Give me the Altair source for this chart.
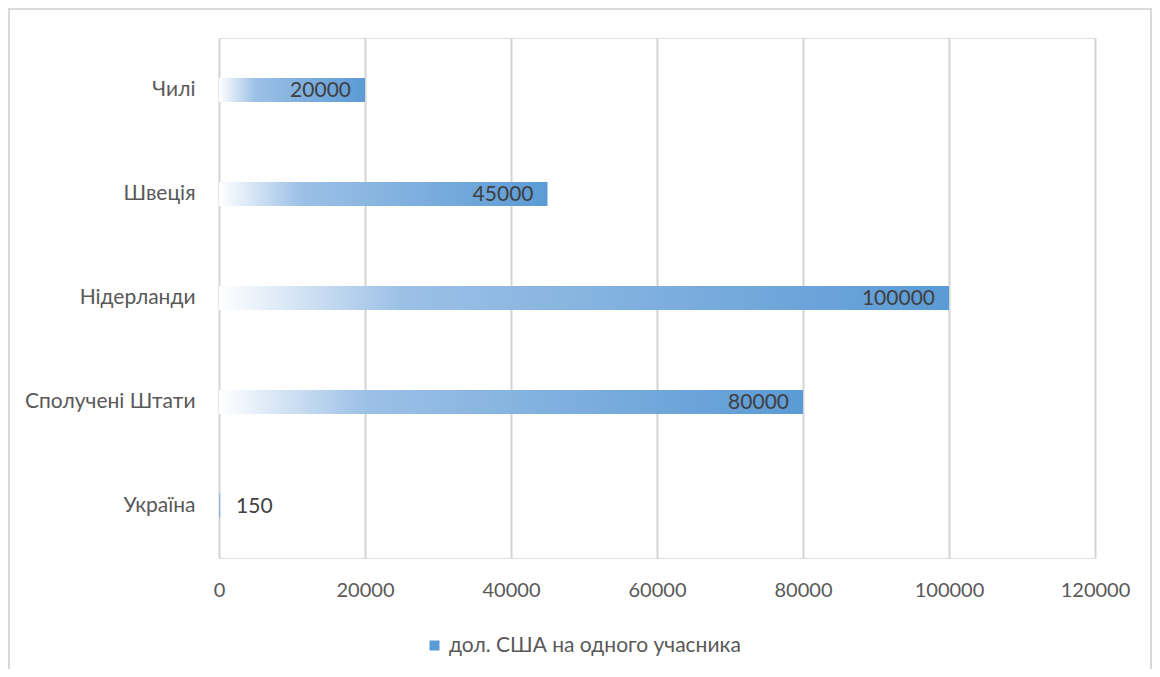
import altair as alt
import pandas as pd

countries = ["Чилі", "Швеція", "Нідерланди", "Сполучені Штати", "Україна"]
values = [20000, 45000, 100000, 80000, 150]
series_name = "дол. США на одного учасника"
x_ticks = [0, 20000, 40000, 60000, 80000, 100000, 120000]

df = pd.DataFrame({"country": countries, "value": values, "series": [series_name] * len(countries)})

FONT = "Lato"
W, H = 876, 520

gradient = alt.LinearGradient(
    gradient="linear",
    stops=[
        alt.GradientStop(offset=0, color="#ffffff"),
        alt.GradientStop(offset=0.25, color="#9cc0e6"),
        alt.GradientStop(offset=1, color="#5b9bd5"),
    ],
    x1=0, x2=1, y1=0, y2=0,
)

x_enc = alt.X(
    "value:Q",
    scale=alt.Scale(domain=[0, 120000], nice=False),
    axis=alt.Axis(
        values=x_ticks, format="d", title=None, domain=False, ticks=False, labelPadding=22,
        labelFlush=False, labelOverlap=False,
        labelFontSize=20, labelColor="#595959", labelFont=FONT,
        gridColor="#d4d4d4", gridWidth=2,
    ),
)
y_enc = alt.Y(
    "country:N",
    sort=countries,
    axis=alt.Axis(
        title=None, domain=False, ticks=False, labelPadding=24, grid=False,
        labelFontSize=21, labelColor="#595959", labelFont=FONT,
    ),
)

border = alt.Chart(alt.Data(values=[{}])).mark_rect(
    fill=None, stroke="#d9d9d9", strokeWidth=2
).encode(
    x=alt.value(-210), x2=alt.value(W + 56), y=alt.value(-29), y2=alt.value(H + 140)
)

legend_layer = alt.Chart(df).mark_bar(opacity=0, size=24).encode(
    x=x_enc,
    y=y_enc,
    color=alt.Color(
        "series:N",
        scale=alt.Scale(range=["#5b9bd5"]),
        legend=alt.Legend(
            title=None, orient="none", legendX=205, legendY=597,
            symbolType="square", symbolSize=100, symbolOpacity=1,
            labelFontSize=21, labelColor="#595959", labelFont=FONT, labelOffset=4,
            labelLimit=0,
        ),
    ),
)

bars = alt.Chart(df).mark_bar(size=24, color=gradient).encode(x=x_enc, y=y_enc)

labels_in = alt.Chart(df).transform_filter("datum.value >= 1000").mark_text(
    align="right", baseline="middle", dx=-14, dy=1, fontSize=21, font=FONT, color="#404040"
).encode(x="value:Q", y=alt.Y("country:N", sort=countries), text="value:Q")

labels_out = alt.Chart(df).transform_filter("datum.value < 1000").mark_text(
    align="left", baseline="middle", dx=16, dy=1, fontSize=21, font=FONT, color="#404040"
).encode(x="value:Q", y=alt.Y("country:N", sort=countries), text="value:Q")

chart = alt.layer(border, legend_layer, bars, labels_in, labels_out).properties(
    width=W, height=H,
    autosize=alt.AutoSizeParams(type="none"),
    padding={"left": 211, "top": 30, "right": 57, "bottom": 111},
).configure_view(stroke=None).configure(background="white")

chart.save("out.html", embed_options={"renderer": "svg", "actions": False})
